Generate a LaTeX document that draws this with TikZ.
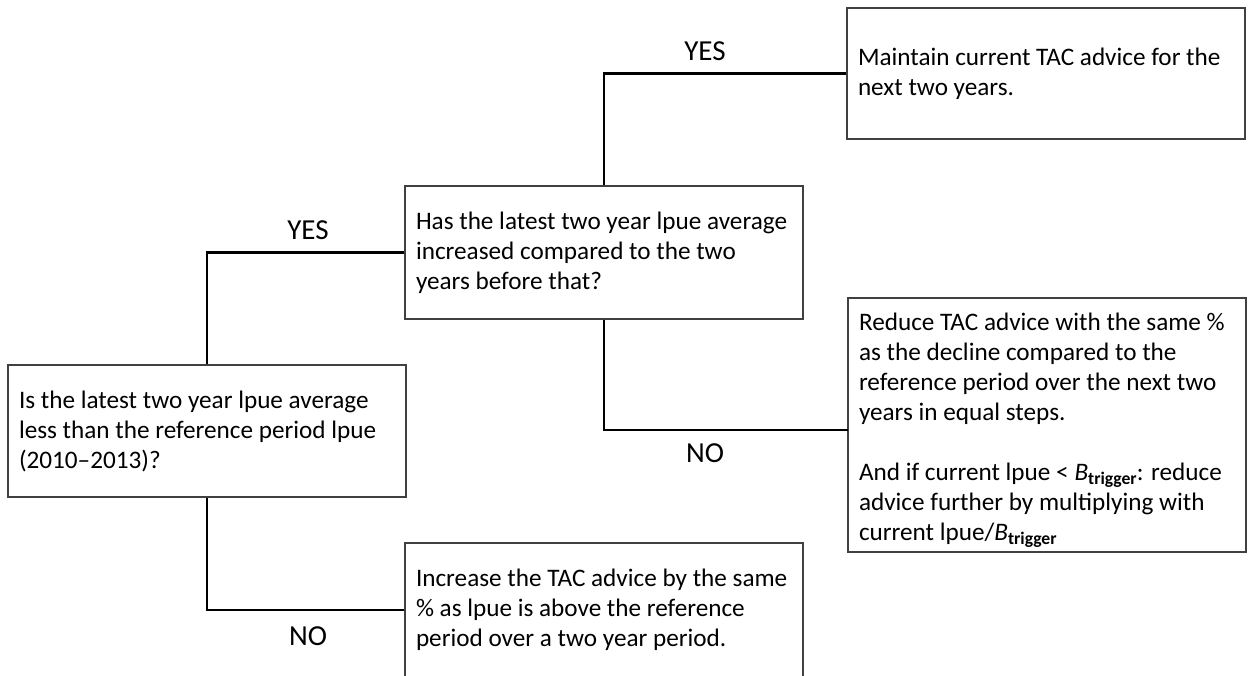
\documentclass[tikz,border=0pt]{standalone}
\usepackage{fontspec}
\setmainfont{Carlito}

\begin{document}
\begin{tikzpicture}[x=0.5pt, y=-0.5pt,
  box/.style = {draw=black!75, line width=0.7pt, text width=188pt, inner sep=5.5pt,
                align=flush left, font=\fontsize{12.6}{15}\selectfont},
  lbl/.style = {font=\fontsize{14.5}{17}\selectfont},
  link/.style = {draw, line width=1.2pt}]
\useasboundingbox (0,0) rectangle (1248,675);
\node[box, minimum height=65.5pt] (maintain) at (1046,73.5) {Maintain current TAC advice for the\\ next two years.};
\node[box, minimum height=66.5pt] (increased) at (604,252.5) {Has the latest two year lpue average\\ increased compared to the two\\ years before that?};
\node[box, minimum height=66pt] (less) at (207,431) {Is the latest two year lpue average\\ less than the reference period lpue\\ (2010--2013)?};
\node[box, inner ysep=0pt, minimum height=127pt] (reduce) at (1047,425) {\rule{0pt}{14pt}Reduce TAC advice with the same \%\\ as the decline compared to the\\ reference period over the next two\\ years in equal steps.\\[15pt] And if current lpue < \textit{B}\textsubscript{\textbf{trigger}}\kern-0.5pt: reduce\\ advice further by multiplying with\\ current lpue/\textit{B}\textsubscript{\textbf{trigger}}};
\node[box, minimum height=67pt] (increase) at (604,610) {Increase the TAC advice by the same\\ \% as lpue is above the reference\\ period over a two year period.};
\coordinate (reducein) at (848,430);
\draw[link] (less.north) |- (increased.west);
\draw[link] (less.south) |- (increase.west);
\draw[link] (increased.north) |- (maintain.west);
\draw[link] (increased.south) |- (reducein);
\node[lbl] (yes1) at (308,230) {YES};
\node[lbl] (no1) at (308,636) {NO};
\node[lbl] (yes2) at (705,51) {YES};
\node[lbl] (no2) at (705,453) {NO};
\end{tikzpicture}
\end{document}
